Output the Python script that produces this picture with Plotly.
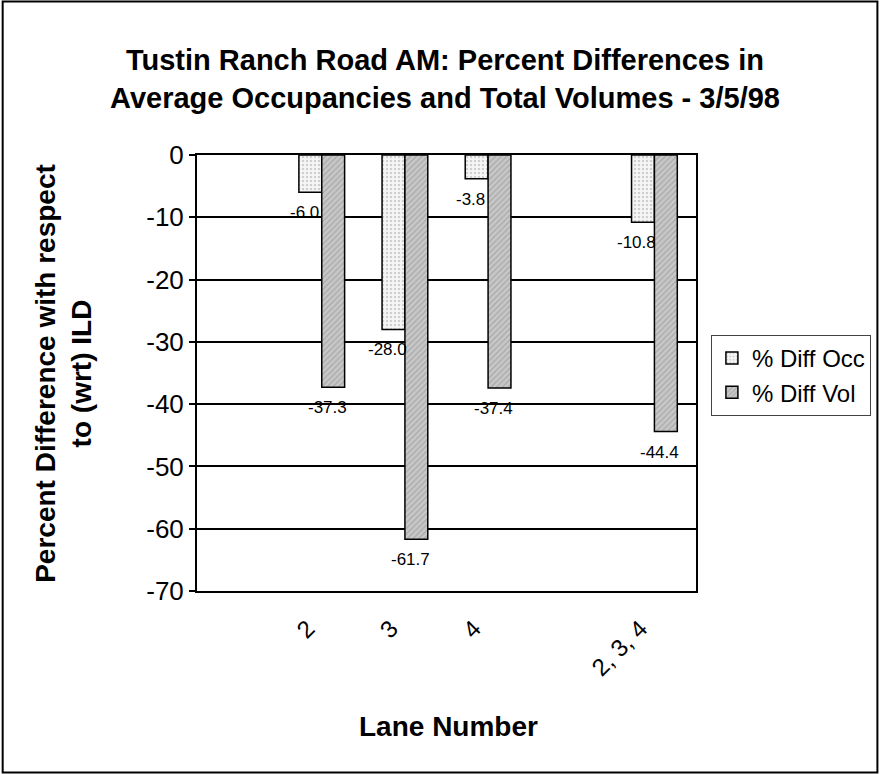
import plotly.graph_objects as go

# ---- data ----
axis_categories = [" ", "2", "3", "4", "  ", "2, 3, 4"]
lanes = ["2", "3", "4", "2, 3, 4"]
diff_occ = [-6.0, -28.0, -3.8, -10.8]
diff_vol = [-37.3, -61.7, -37.4, -44.4]
y_ticks = [0, -10, -20, -30, -40, -50, -60, -70]

W, H = 883, 774
L, R, T, B = 197, 184, 155, 183
pw, ph = W - L - R, H - T - B
BARGAP = 0.45

def px(xp):
    return (xp - L) / pw

def py(yp):
    return (H - B - yp) / ph

FONT = "Arial, Liberation Sans, sans-serif"

fig = go.Figure()
fig.add_trace(go.Bar(
    x=lanes, y=diff_occ, name="% Diff Occ",
    marker=dict(color="#f2f2f2", line=dict(color="black", width=1.5),
                pattern=dict(shape=".", fgcolor="#a8a8a8", bgcolor="#f6f6f6", size=4, solidity=0.3)),
))
fig.add_trace(go.Bar(
    x=lanes, y=diff_vol, name="% Diff Vol",
    marker=dict(color="#c0c0c0", line=dict(color="black", width=1.5),
                pattern=dict(shape="/", fgcolor="#8c8c8c", bgcolor="#c8c8c8", size=4, solidity=0.35)),
))

# data labels below the end of each bar
cat_w = pw / len(axis_categories)
half_bar = cat_w * (1 - BARGAP) / 4
annotations = []
for series, shift in ((diff_occ, -half_bar), (diff_vol, half_bar)):
    for lane, val in zip(lanes, series):
        annotations.append(dict(
            x=axis_categories.index(lane), y=val, xref="x", yref="y",
            text=f"{val:.1f}", showarrow=False,
            xanchor="center", yanchor="top", xshift=shift - 6, yshift=-9,
            font=dict(family=FONT, size=17, color="black"),
        ))

annotations += [
    dict(text="<b>Percent Difference with respect<br>to (wrt) ILD</b>",
         xref="paper", yref="paper", x=px(62), y=py(373),
         xanchor="center", yanchor="middle", textangle=-90, showarrow=False,
         font=dict(family=FONT, size=28, color="black")),
    dict(text="<b>Lane Number</b>",
         xref="paper", yref="paper", x=px(450), y=py(726),
         xanchor="center", yanchor="middle", showarrow=False,
         font=dict(family=FONT, size=28, color="black")),
]

fig.update_layout(
    width=W, height=H,
    margin=dict(l=L, r=R, t=T, b=B, pad=0),
    paper_bgcolor="white", plot_bgcolor="white",
    barmode="group", bargap=BARGAP, bargroupgap=0,
    font=dict(family=FONT, color="black"),
    title=dict(
        text="<b>Tustin Ranch Road AM: Percent Differences in<br>Average Occupancies and Total Volumes - 3/5/98</b>",
        x=445 / W, xanchor="center", y=1 - 70 / H, yanchor="middle",
        font=dict(family=FONT, size=29, color="black"),
    ),
    xaxis=dict(
        type="category", categoryorder="array", categoryarray=axis_categories,
        range=[-0.5, len(axis_categories) - 0.5],
        showline=True, linecolor="black", linewidth=2, mirror=True,
        ticks="", tickangle=-45, showgrid=False,
        ticklabelshift=-14, ticklabelstandoff=12,
        tickfont=dict(family=FONT, size=24, color="black"),
    ),
    yaxis=dict(
        range=[-70, 0], tickvals=y_ticks, ticktext=[str(v) for v in y_ticks],
        showline=True, linecolor="black", linewidth=2, mirror=True,
        ticks="outside", ticklen=6, tickcolor="black", tickwidth=1.5,
        showgrid=True, gridcolor="black", gridwidth=1.5, zeroline=False,
        tickfont=dict(family=FONT, size=26, color="black"),
    ),
    legend=dict(
        x=px(714), y=py(335), xanchor="left", yanchor="top",
        bordercolor="#444", borderwidth=1, bgcolor="white",
        font=dict(family=FONT, size=24, color="black"),
    ),
    annotations=annotations,
    shapes=[
        dict(type="rect", xref="paper", yref="paper",
             x0=px(1.5), x1=px(W - 1.5), y0=py(H - 1.5), y1=py(1.5),
             line=dict(color="black", width=2), fillcolor="rgba(0,0,0,0)", layer="below"),
    ],
)

fig.write_html("out.html")
